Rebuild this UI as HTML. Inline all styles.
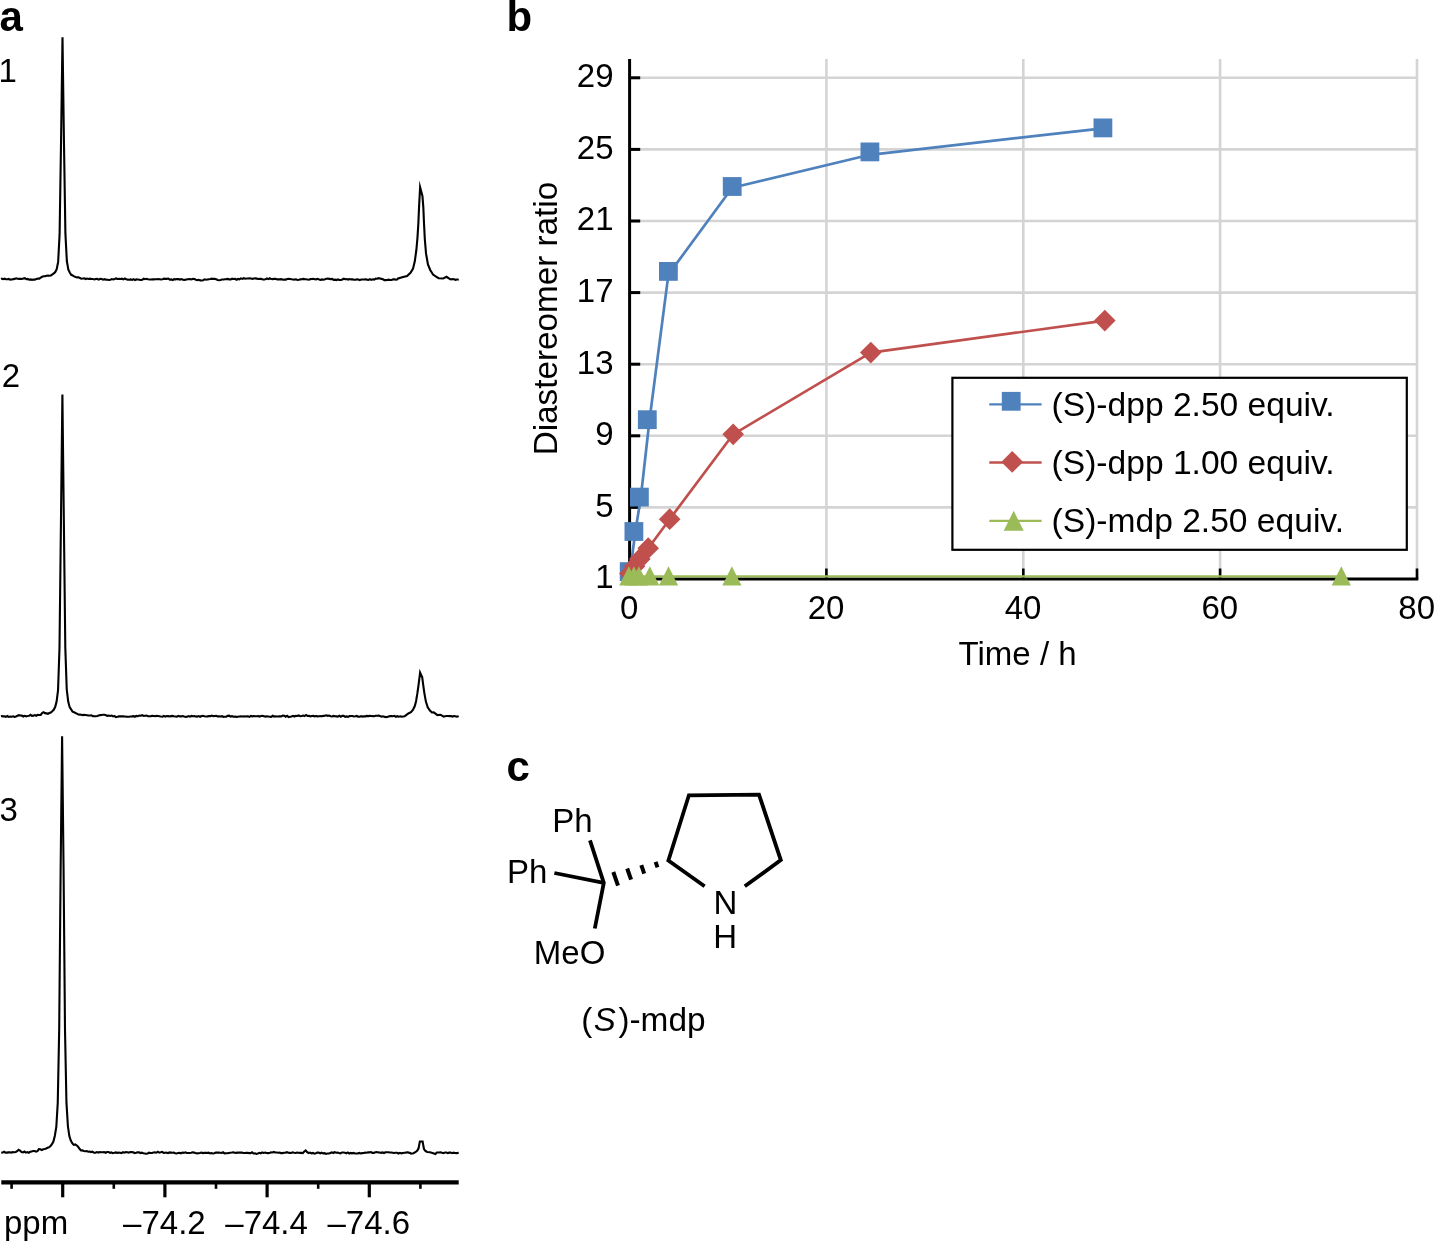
<!DOCTYPE html>
<html lang="en"><head><meta charset="utf-8"><title>Figure</title>
<style>html,body{margin:0;padding:0;background:#fff}body{width:1434px;height:1241px;overflow:hidden}svg{display:block;will-change:transform}text{font-family:"Liberation Sans", Arial, Helvetica, sans-serif;fill:#000}.t{font-size:33px}.b{font-size:42px;font-weight:bold}</style></head><body>
<svg width="1434" height="1241" viewBox="0 0 1434 1241">
<rect width="1434" height="1241" fill="#fff"/>
<g id="panel-a">
<text class="b" x="-0.5" y="30.6">a</text>
<text class="t" x="-1.5" y="82.2">1</text>
<text class="t" x="1.7" y="387">2</text>
<text class="t" x="-0.6" y="820.7">3</text>
<polyline fill="none" stroke="#000" stroke-width="2.1" stroke-linejoin="miter" stroke-miterlimit="8" points="1.00,278.88 1.60,278.68 3.05,279.22 4.50,278.67 5.95,279.31 7.40,279.32 8.85,278.96 10.30,279.61 11.75,279.42 13.20,279.14 14.65,278.87 16.10,278.31 17.55,278.78 19.00,278.84 20.45,278.74 21.90,278.94 23.35,278.48 24.80,278.22 26.25,279.22 27.70,278.95 29.15,279.70 30.60,279.43 32.05,279.87 33.50,279.50 34.95,279.63 36.40,278.89 37.85,278.49 39.30,278.62 40.75,277.71 42.20,276.62 43.65,276.25 45.10,276.30 46.55,275.77 48.00,275.47 49.45,275.79 50.90,275.43 52.35,274.44 53.80,273.34 55.25,272.02 56.70,269.18 58.15,261.88 59.60,234.41 61.05,140.92 62.50,37.21 63.95,140.96 65.40,233.40 66.85,261.02 68.30,269.41 69.75,272.53 71.20,274.81 72.65,275.44 74.10,276.37 75.55,277.03 77.00,277.36 78.45,277.40 79.90,278.07 81.35,278.75 82.80,278.56 84.25,278.33 85.70,279.01 87.15,278.49 88.60,279.00 90.05,278.68 91.50,279.04 92.95,279.05 94.40,279.44 95.85,279.05 97.30,278.93 98.75,279.62 100.20,278.77 101.65,279.00 103.10,279.65 104.55,279.19 106.00,279.67 107.45,279.79 108.90,280.04 110.35,279.68 111.80,279.02 113.25,279.50 114.70,279.05 116.15,278.45 117.60,278.99 119.05,278.92 120.50,279.03 121.95,278.70 123.40,279.36 124.85,278.50 126.30,279.17 127.75,279.64 129.20,279.68 130.65,279.43 132.10,279.91 133.55,279.16 135.00,280.05 136.45,279.44 137.90,279.55 139.35,279.71 140.80,279.98 142.25,279.66 143.70,278.75 145.15,279.16 146.60,278.80 148.05,279.22 149.50,279.43 150.95,279.51 152.40,279.31 153.85,279.34 155.30,279.21 156.75,279.27 158.20,279.01 159.65,279.24 161.10,279.44 162.55,279.25 164.00,278.63 165.45,278.86 166.90,278.85 168.35,278.59 169.80,279.66 171.25,279.36 172.70,280.03 174.15,279.16 175.60,279.38 177.05,278.95 178.50,279.15 179.95,279.57 181.40,279.07 182.85,279.71 184.30,279.89 185.75,279.78 187.20,279.21 188.65,279.11 190.10,278.96 191.55,279.42 193.00,278.88 194.45,279.00 195.90,279.77 197.35,280.08 198.80,279.75 200.25,280.41 201.70,280.51 203.15,280.17 204.60,279.34 206.05,279.74 207.50,279.46 208.95,279.29 210.40,279.09 211.85,278.65 213.30,278.92 214.75,278.90 216.20,279.23 217.65,279.90 219.10,280.26 220.55,279.90 222.00,279.49 223.45,279.53 224.90,279.25 226.35,279.14 227.80,278.89 229.25,279.39 230.70,279.49 232.15,278.72 233.60,279.02 235.05,278.81 236.50,279.69 237.95,278.96 239.40,279.36 240.85,278.36 242.30,278.88 243.75,278.24 245.20,278.79 246.65,278.57 248.10,278.44 249.55,278.34 251.00,278.55 252.45,278.83 253.90,278.47 255.35,278.39 256.80,278.62 258.25,279.00 259.70,278.71 261.15,278.88 262.60,279.45 264.05,279.45 265.50,279.16 266.95,278.52 268.40,279.17 269.85,278.30 271.30,279.06 272.75,279.15 274.20,278.88 275.65,278.85 277.10,279.40 278.55,279.40 280.00,279.40 281.45,279.13 282.90,279.67 284.35,279.52 285.80,279.58 287.25,278.96 288.70,278.88 290.15,278.94 291.60,279.31 293.05,279.47 294.50,279.57 295.95,279.33 297.40,279.98 298.85,279.73 300.30,279.39 301.75,279.20 303.20,278.89 304.65,279.10 306.10,279.19 307.55,279.55 309.00,279.77 310.45,279.10 311.90,278.94 313.35,278.88 314.80,279.23 316.25,279.32 317.70,278.83 319.15,279.45 320.60,279.81 322.05,279.44 323.50,279.70 324.95,279.25 326.40,278.70 327.85,278.66 329.30,278.87 330.75,279.07 332.20,278.85 333.65,279.79 335.10,279.62 336.55,280.03 338.00,279.43 339.45,279.99 340.90,279.95 342.35,279.50 343.80,278.72 345.25,279.28 346.70,278.99 348.15,279.54 349.60,278.99 351.05,279.40 352.50,279.42 353.95,279.72 355.40,279.73 356.85,279.38 358.30,279.58 359.75,280.10 361.20,279.45 362.65,279.48 364.10,279.45 365.55,279.28 367.00,279.61 368.45,279.87 369.90,279.10 371.35,279.89 372.80,279.33 374.25,279.55 375.70,278.54 377.15,278.70 378.60,278.21 380.05,278.56 381.50,278.88 382.95,279.29 384.40,280.09 385.85,280.15 387.30,280.03 388.75,279.64 390.20,279.99 391.65,280.03 393.10,279.34 394.55,279.36 396.00,279.73 397.45,279.34 398.05,278.48 403.13,276.90 407.08,275.99 410.47,272.83 412.95,268.89 414.75,261.55 416.33,250.27 417.46,237.86 418.36,223.19 419.04,207.39 420.11,187.19 422.43,195.88 423.33,207.39 424.01,223.19 424.80,238.98 426.04,253.65 427.95,264.37 430.21,270.01 433.03,274.53 436.42,276.78 438.67,278.25 443.19,278.48 446.57,276.78 449.96,279.04 451.10,279.48 452.55,279.06 454.00,279.33 455.45,279.86 456.90,279.53 458.35,279.47 458.70,279.27"/>
<polyline fill="none" stroke="#000" stroke-width="2.1" stroke-linejoin="miter" stroke-miterlimit="8" points="1.00,716.37 1.50,716.17 2.95,716.36 4.40,716.22 5.85,716.86 7.30,716.01 8.75,716.93 10.20,716.51 11.65,716.74 13.10,716.26 14.55,716.96 16.00,716.45 17.45,715.71 18.90,715.21 20.35,715.54 21.80,715.65 23.25,716.51 24.70,715.84 26.15,716.30 27.60,716.06 29.05,715.77 30.50,714.85 31.95,715.80 33.40,715.61 34.85,715.03 36.30,715.74 37.75,714.89 39.20,715.02 40.65,714.97 42.10,713.08 43.55,712.23 45.00,713.15 46.45,713.38 47.90,713.77 49.35,713.01 50.80,712.54 52.25,711.21 53.70,709.76 55.15,707.01 56.60,701.57 58.05,690.03 59.50,647.76 60.95,521.81 62.40,394.57 63.85,521.07 65.30,647.61 66.75,689.51 68.20,701.62 69.65,707.18 71.10,709.35 72.55,711.60 74.00,712.19 75.45,712.99 76.90,713.61 78.35,714.56 79.80,714.60 81.25,714.82 82.70,715.14 84.15,714.87 85.60,714.94 87.05,715.24 88.50,715.51 89.95,715.50 91.40,715.42 92.85,716.17 94.30,716.31 95.75,716.18 97.20,716.05 98.65,715.48 100.10,715.15 101.55,715.02 103.00,714.82 104.45,714.73 105.90,715.19 107.35,715.81 108.80,715.56 110.25,715.96 111.70,715.52 113.15,716.39 114.60,716.04 116.05,717.11 117.50,716.77 118.95,716.38 120.40,716.26 121.85,716.34 123.30,716.27 124.75,716.47 126.20,716.67 127.65,716.72 129.10,716.70 130.55,716.46 132.00,716.40 133.45,716.11 134.90,716.75 136.35,715.94 137.80,716.22 139.25,715.61 140.70,715.79 142.15,715.18 143.60,716.00 145.05,715.78 146.50,715.63 147.95,716.25 149.40,716.29 150.85,716.13 152.30,715.83 153.75,715.96 155.20,716.28 156.65,715.74 158.10,715.92 159.55,716.29 161.00,716.53 162.45,716.68 163.90,715.89 165.35,716.64 166.80,716.04 168.25,716.14 169.70,716.52 171.15,716.15 172.60,715.90 174.05,716.22 175.50,716.43 176.95,716.74 178.40,715.82 179.85,716.38 181.30,716.35 182.75,716.04 184.20,716.59 185.65,716.85 187.10,716.68 188.55,716.02 190.00,716.61 191.45,715.96 192.90,716.29 194.35,716.11 195.80,716.41 197.25,716.63 198.70,716.04 200.15,716.74 201.60,716.04 203.05,715.77 204.50,716.21 205.95,716.49 207.40,716.34 208.85,716.14 210.30,716.17 211.75,715.56 213.20,716.16 214.65,715.96 216.10,715.85 217.55,716.42 219.00,716.38 220.45,716.50 221.90,716.13 223.35,716.82 224.80,716.68 226.25,716.65 227.70,715.83 229.15,715.70 230.60,716.61 232.05,716.15 233.50,716.68 234.95,716.52 236.40,716.83 237.85,716.75 239.30,716.49 240.75,716.34 242.20,716.51 243.65,716.25 245.10,716.44 246.55,716.26 248.00,716.35 249.45,716.89 250.90,715.98 252.35,716.32 253.80,716.08 255.25,716.32 256.70,716.24 258.15,716.07 259.60,716.54 261.05,716.05 262.50,715.78 263.95,716.17 265.40,716.57 266.85,716.32 268.30,716.45 269.75,716.81 271.20,716.87 272.65,715.82 274.10,716.56 275.55,716.26 277.00,716.43 278.45,716.37 279.90,716.20 281.35,716.31 282.80,715.52 284.25,715.79 285.70,716.72 287.15,715.72 288.60,717.01 290.05,716.75 291.50,716.53 292.95,715.89 294.40,716.56 295.85,715.89 297.30,716.03 298.75,715.41 300.20,716.21 301.65,716.04 303.10,715.52 304.55,715.99 306.00,714.95 307.45,715.95 308.90,715.80 310.35,716.36 311.80,715.97 313.25,715.91 314.70,716.32 316.15,716.02 317.60,716.38 319.05,716.20 320.50,715.97 321.95,716.26 323.40,715.88 324.85,715.83 326.30,715.27 327.75,715.79 329.20,715.48 330.65,716.22 332.10,716.43 333.55,715.86 335.00,716.22 336.45,716.35 337.90,716.63 339.35,715.69 340.80,716.67 342.25,715.87 343.70,715.84 345.15,716.81 346.60,716.38 348.05,716.82 349.50,716.11 350.95,716.04 352.40,715.99 353.85,716.50 355.30,716.27 356.75,715.94 358.20,716.66 359.65,716.70 361.10,716.14 362.55,716.64 364.00,716.32 365.45,716.36 366.90,715.91 368.35,716.08 369.80,715.89 371.25,716.02 372.70,716.14 374.15,716.24 375.60,715.77 377.05,715.78 378.50,715.65 379.95,716.01 381.40,716.67 382.85,716.28 384.30,716.69 385.75,717.08 387.20,717.00 388.65,716.49 390.10,716.09 391.55,716.07 393.00,716.20 394.45,715.83 395.90,716.76 397.35,716.19 398.80,716.75 400.25,716.26 401.70,716.77 403.15,716.53 404.60,716.34 405.79,715.43 408.36,713.50 410.94,712.21 412.88,709.95 414.81,706.08 416.10,700.93 417.39,693.19 418.55,684.81 420.10,672.56 422.22,677.40 423.19,684.81 424.48,693.84 425.90,701.57 427.70,707.37 429.96,710.60 431.89,712.53 433.83,712.40 435.76,713.82 437.37,715.11 440.60,714.79 442.85,716.08 443.75,716.61 445.20,716.19 446.65,716.06 448.10,716.01 449.55,716.16 451.00,716.05 452.45,716.60 453.90,716.09 455.35,716.30 456.80,716.69 458.25,716.34 458.70,716.14"/>
<polyline fill="none" stroke="#000" stroke-width="2.1" stroke-linejoin="miter" stroke-miterlimit="8" points="1.20,1152.83 2.65,1152.55 4.10,1151.74 5.55,1152.58 7.00,1152.58 8.45,1152.39 9.90,1152.22 11.35,1152.60 12.80,1152.17 14.25,1152.30 15.70,1151.99 17.15,1151.16 18.60,1149.75 20.05,1150.51 21.50,1151.95 22.95,1152.40 24.40,1151.57 25.85,1152.62 27.30,1152.06 28.75,1152.76 30.20,1151.77 31.65,1151.41 33.10,1151.06 34.55,1151.01 36.00,1151.56 37.45,1151.16 38.90,1149.04 40.35,1149.26 41.80,1150.05 43.25,1149.33 44.70,1149.05 46.15,1148.54 47.60,1147.80 49.05,1147.38 50.50,1146.14 51.95,1144.26 53.40,1141.53 54.85,1135.79 56.30,1126.94 57.75,1102.86 59.20,1029.13 60.65,868.03 62.10,736.16 63.55,867.27 65.00,1029.67 66.45,1102.41 67.90,1126.08 69.35,1136.05 70.80,1140.59 72.25,1143.19 73.70,1144.90 75.15,1144.45 76.60,1145.29 78.05,1146.60 79.50,1148.80 80.95,1150.48 82.40,1150.43 83.85,1150.97 85.30,1151.21 86.75,1151.10 88.20,1151.78 89.65,1151.61 91.10,1152.05 92.55,1151.65 94.00,1152.72 95.45,1152.68 96.90,1152.02 98.35,1152.59 99.80,1151.99 101.25,1152.29 102.70,1152.30 104.15,1152.13 105.60,1152.74 107.05,1151.96 108.50,1151.95 109.95,1152.92 111.40,1152.40 112.85,1153.11 114.30,1152.83 115.75,1152.46 117.20,1152.86 118.65,1152.64 120.10,1152.68 121.55,1153.08 123.00,1152.22 124.45,1152.68 125.90,1152.08 127.35,1152.18 128.80,1152.74 130.25,1152.13 131.70,1152.05 133.15,1152.28 134.60,1153.03 136.05,1152.70 137.50,1152.21 138.95,1152.38 140.40,1153.03 141.85,1152.68 143.30,1153.25 144.75,1153.43 146.20,1153.77 147.65,1153.52 149.10,1152.67 150.55,1152.97 152.00,1152.96 153.45,1152.55 154.90,1152.42 156.35,1152.73 157.80,1151.68 159.25,1152.55 160.70,1152.29 162.15,1151.85 163.60,1152.95 165.05,1152.70 166.50,1152.56 167.95,1153.13 169.40,1152.43 170.85,1152.59 172.30,1152.78 173.75,1152.62 175.20,1153.30 176.65,1153.44 178.10,1153.01 179.55,1152.90 181.00,1153.27 182.45,1152.57 183.90,1152.87 185.35,1152.34 186.80,1153.03 188.25,1153.03 189.70,1153.01 191.15,1152.67 192.60,1152.29 194.05,1152.61 195.50,1153.04 196.95,1153.38 198.40,1153.32 199.85,1153.08 201.30,1152.55 202.75,1153.06 204.20,1152.88 205.65,1152.80 207.10,1152.92 208.55,1152.66 210.00,1153.41 211.45,1153.08 212.90,1153.43 214.35,1153.21 215.80,1152.50 217.25,1152.59 218.70,1152.67 220.15,1152.72 221.60,1153.02 223.05,1152.32 224.50,1153.40 225.95,1153.31 227.40,1153.28 228.85,1152.99 230.30,1152.72 231.75,1152.56 233.20,1152.30 234.65,1152.73 236.10,1152.90 237.55,1152.62 239.00,1152.65 240.45,1152.47 241.90,1152.60 243.35,1153.00 244.80,1153.01 246.25,1152.92 247.70,1152.81 249.15,1153.13 250.60,1153.15 252.05,1152.33 253.50,1153.50 254.95,1153.24 256.40,1153.90 257.85,1153.57 259.30,1152.83 260.75,1153.30 262.20,1152.44 263.65,1152.90 265.10,1152.50 266.55,1153.08 268.00,1153.14 269.45,1153.08 270.90,1152.38 272.35,1152.44 273.80,1151.96 275.25,1152.50 276.70,1152.55 278.15,1152.76 279.60,1152.59 281.05,1153.08 282.50,1153.12 283.95,1152.70 285.40,1152.68 286.85,1152.16 288.30,1152.78 289.75,1152.87 291.20,1152.99 292.65,1152.34 294.10,1152.79 295.55,1152.97 297.00,1152.55 298.45,1152.71 299.90,1152.88 301.35,1152.91 302.80,1153.11 304.25,1151.52 305.70,1150.46 307.15,1152.17 308.60,1153.01 310.05,1152.59 311.50,1153.33 312.95,1152.89 314.40,1153.61 315.85,1153.20 317.30,1152.57 318.75,1152.62 320.20,1153.33 321.65,1152.67 323.10,1153.34 324.55,1153.16 326.00,1153.95 327.45,1153.47 328.90,1153.56 330.35,1153.00 331.80,1152.31 333.25,1152.99 334.70,1152.09 336.15,1152.75 337.60,1152.59 339.05,1153.05 340.50,1153.44 341.95,1152.47 343.40,1152.49 344.85,1152.66 346.30,1153.32 347.75,1152.44 349.20,1153.57 350.65,1152.94 352.10,1153.35 353.55,1152.97 355.00,1153.47 356.45,1153.46 357.90,1153.38 359.35,1152.97 360.80,1153.45 362.25,1153.14 363.70,1153.03 365.15,1152.64 366.60,1152.72 368.05,1152.27 369.50,1152.39 370.95,1152.07 372.40,1152.91 373.85,1152.89 375.30,1152.33 376.75,1152.08 378.20,1152.42 379.65,1152.48 381.10,1152.84 382.55,1152.43 384.00,1152.98 385.45,1152.23 386.90,1152.22 388.35,1152.30 389.80,1152.56 391.25,1152.55 392.70,1152.69 394.15,1153.01 395.60,1152.79 397.05,1152.78 398.50,1153.53 399.95,1152.86 401.40,1153.30 402.85,1152.95 404.30,1152.73 405.75,1152.60 407.20,1152.22 408.65,1152.62 410.10,1153.01 410.99,1153.68 413.43,1153.19 415.38,1152.22 417.34,1150.51 418.56,1148.31 419.29,1144.41 419.87,1141.48 422.61,1141.48 423.29,1145.38 423.93,1148.80 425.15,1150.75 427.10,1151.97 430.03,1152.22 432.47,1152.95 435.40,1153.93 436.86,1152.46 438.81,1152.46 440.55,1152.32 442.00,1152.84 443.45,1153.18 444.90,1152.54 446.35,1152.53 447.80,1153.12 449.25,1152.67 450.70,1152.63 452.15,1153.13 453.60,1152.61 455.05,1152.99 456.50,1153.09 457.95,1152.89 458.70,1152.69"/>
<line x1="1.3" y1="1182.3" x2="458.7" y2="1182.3" stroke="#000" stroke-width="4.2"/>
<line x1="62.7" y1="1182.3" x2="62.7" y2="1197.3" stroke="#000" stroke-width="3.2"/>
<line x1="164.9" y1="1182.3" x2="164.9" y2="1197.3" stroke="#000" stroke-width="3.2"/>
<line x1="267.1" y1="1182.3" x2="267.1" y2="1197.3" stroke="#000" stroke-width="3.2"/>
<line x1="369.3" y1="1182.3" x2="369.3" y2="1197.3" stroke="#000" stroke-width="3.2"/>
<line x1="11.6" y1="1182.3" x2="11.6" y2="1188.8" stroke="#000" stroke-width="2.6"/>
<line x1="113.8" y1="1182.3" x2="113.8" y2="1188.8" stroke="#000" stroke-width="2.6"/>
<line x1="216.0" y1="1182.3" x2="216.0" y2="1188.8" stroke="#000" stroke-width="2.6"/>
<line x1="318.2" y1="1182.3" x2="318.2" y2="1188.8" stroke="#000" stroke-width="2.6"/>
<line x1="420.4" y1="1182.3" x2="420.4" y2="1188.8" stroke="#000" stroke-width="2.6"/>
<text class="t" x="4" y="1233.6">ppm</text>
<text class="t" x="164.4" y="1233.6" text-anchor="middle">–74.2</text>
<text class="t" x="266.6" y="1233.6" text-anchor="middle">–74.4</text>
<text class="t" x="368.8" y="1233.6" text-anchor="middle">–74.6</text>
</g>
<g id="panel-b">
<text class="b" x="506.5" y="30.6">b</text>
<line x1="629.6" y1="507.4" x2="1417.0" y2="507.4" stroke="#d4d4d4" stroke-width="2.6"/>
<line x1="629.6" y1="435.8" x2="1417.0" y2="435.8" stroke="#d4d4d4" stroke-width="2.6"/>
<line x1="629.6" y1="364.2" x2="1417.0" y2="364.2" stroke="#d4d4d4" stroke-width="2.6"/>
<line x1="629.6" y1="292.6" x2="1417.0" y2="292.6" stroke="#d4d4d4" stroke-width="2.6"/>
<line x1="629.6" y1="221.0" x2="1417.0" y2="221.0" stroke="#d4d4d4" stroke-width="2.6"/>
<line x1="629.6" y1="149.4" x2="1417.0" y2="149.4" stroke="#d4d4d4" stroke-width="2.6"/>
<line x1="629.6" y1="77.8" x2="1417.0" y2="77.8" stroke="#d4d4d4" stroke-width="2.6"/>
<line x1="826.4" y1="59.0" x2="826.4" y2="579.0" stroke="#d4d4d4" stroke-width="2.6"/>
<line x1="1023.3" y1="59.0" x2="1023.3" y2="579.0" stroke="#d4d4d4" stroke-width="2.6"/>
<line x1="1220.1" y1="59.0" x2="1220.1" y2="579.0" stroke="#d4d4d4" stroke-width="2.6"/>
<line x1="1417.0" y1="59.0" x2="1417.0" y2="579.0" stroke="#d4d4d4" stroke-width="2.6"/>
<line x1="629.6" y1="59.0" x2="629.6" y2="580.5" stroke="#000" stroke-width="3"/>
<line x1="628.1" y1="579.0" x2="1418.3" y2="579.0" stroke="#000" stroke-width="3"/>
<line x1="629.6" y1="507.4" x2="640.2" y2="507.4" stroke="#000" stroke-width="3"/>
<line x1="629.6" y1="435.8" x2="640.2" y2="435.8" stroke="#000" stroke-width="3"/>
<line x1="629.6" y1="364.2" x2="640.2" y2="364.2" stroke="#000" stroke-width="3"/>
<line x1="629.6" y1="292.6" x2="640.2" y2="292.6" stroke="#000" stroke-width="3"/>
<line x1="629.6" y1="221.0" x2="640.2" y2="221.0" stroke="#000" stroke-width="3"/>
<line x1="629.6" y1="149.4" x2="640.2" y2="149.4" stroke="#000" stroke-width="3"/>
<line x1="629.6" y1="77.8" x2="640.2" y2="77.8" stroke="#000" stroke-width="3"/>
<line x1="826.4" y1="579.0" x2="826.4" y2="568.5" stroke="#000" stroke-width="2.6"/>
<line x1="1023.3" y1="579.0" x2="1023.3" y2="568.5" stroke="#000" stroke-width="2.6"/>
<line x1="1220.1" y1="579.0" x2="1220.1" y2="568.5" stroke="#000" stroke-width="2.6"/>
<line x1="1417.0" y1="579.0" x2="1417.0" y2="568.5" stroke="#000" stroke-width="2.6"/>
<text class="t" x="613.5" y="588.3" text-anchor="end">1</text>
<text class="t" x="613.5" y="516.7" text-anchor="end">5</text>
<text class="t" x="613.5" y="445.1" text-anchor="end">9</text>
<text class="t" x="613.5" y="373.5" text-anchor="end">13</text>
<text class="t" x="613.5" y="301.9" text-anchor="end">17</text>
<text class="t" x="613.5" y="230.3" text-anchor="end">21</text>
<text class="t" x="613.5" y="158.7" text-anchor="end">25</text>
<text class="t" x="613.5" y="87.1" text-anchor="end">29</text>
<text class="t" x="629.3" y="618.7" text-anchor="middle">0</text>
<text class="t" x="826.1" y="618.7" text-anchor="middle">20</text>
<text class="t" x="1023.0" y="618.7" text-anchor="middle">40</text>
<text class="t" x="1219.8" y="618.7" text-anchor="middle">60</text>
<text class="t" x="1416.7" y="618.7" text-anchor="middle">80</text>
<text class="t" x="1017.6" y="665.0" text-anchor="middle">Time / h</text>
<text class="t" transform="translate(557.4 318.6) rotate(-90)" text-anchor="middle" style="font-size:33.25px">Diastereomer ratio</text>
<polyline fill="none" stroke="#4f81bd" stroke-width="2.7" stroke-linejoin="round" points="629.8,574.0 635.3,532.0 640.8,497.5 649.5,420.0 668.4,274.6 732.2,187.8 869.9,154.8 1102.9,128.3"/>
<rect x="619.8" y="562.2" width="18.8" height="18.8" fill="#4f81bd"/>
<rect x="624.5" y="522.1" width="18.8" height="18.8" fill="#4f81bd"/>
<rect x="630.0" y="487.7" width="18.8" height="18.8" fill="#4f81bd"/>
<rect x="637.9" y="410.3" width="18.8" height="18.8" fill="#4f81bd"/>
<rect x="659.0" y="262.0" width="18.8" height="18.8" fill="#4f81bd"/>
<rect x="722.8" y="177.1" width="18.8" height="18.8" fill="#4f81bd"/>
<rect x="860.5" y="142.5" width="18.8" height="18.8" fill="#4f81bd"/>
<rect x="1093.5" y="118.5" width="18.8" height="18.8" fill="#4f81bd"/>
<polyline fill="none" stroke="#c0504d" stroke-width="2.7" stroke-linejoin="round" points="629.8,573.6 634.6,566.2 639.8,559.0 648.2,548.2 669.7,519.2 733.2,434.3 870.8,352.6 1104.8,320.6"/>
<path d="M629.8 562.7L640.6 573.6L629.8 584.5L619.0 573.6Z" fill="#c0504d"/>
<path d="M634.6 555.3L645.4 566.2L634.6 577.1L623.8 566.2Z" fill="#c0504d"/>
<path d="M639.8 548.1L650.6 559.0L639.8 569.9L629.0 559.0Z" fill="#c0504d"/>
<path d="M648.2 537.3L659.0 548.2L648.2 559.1L637.4 548.2Z" fill="#c0504d"/>
<path d="M669.7 508.3L680.5 519.2L669.7 530.1L658.9 519.2Z" fill="#c0504d"/>
<path d="M733.2 423.4L744.0 434.3L733.2 445.2L722.4 434.3Z" fill="#c0504d"/>
<path d="M870.8 341.7L881.6 352.6L870.8 363.5L860.0 352.6Z" fill="#c0504d"/>
<path d="M1104.8 309.7L1115.6 320.6L1104.8 331.5L1094.0 320.6Z" fill="#c0504d"/>
<polyline fill="none" stroke="#9bbb59" stroke-width="2.4" stroke-linejoin="round" points="628.8,576.4 633.9,576.4 638.9,576.4 649.8,576.4 668.5,576.4 731.9,576.4 1341.3,576.4"/>
<path d="M628.8 566.2L638.4 585.5L619.2 585.5Z" fill="#9bbb59"/>
<path d="M633.9 566.2L643.5 585.5L624.3 585.5Z" fill="#9bbb59"/>
<path d="M638.9 566.2L648.5 585.5L629.3 585.5Z" fill="#9bbb59"/>
<path d="M649.8 566.2L659.4 585.5L640.2 585.5Z" fill="#9bbb59"/>
<path d="M668.5 566.2L678.1 585.5L658.9 585.5Z" fill="#9bbb59"/>
<path d="M731.9 566.2L741.5 585.5L722.3 585.5Z" fill="#9bbb59"/>
<path d="M1341.3 566.2L1350.9 585.5L1331.7 585.5Z" fill="#9bbb59"/>
<rect x="952.4" y="377.8" width="454.4" height="172.0" fill="#fff" stroke="#000" stroke-width="2.2"/>
<line x1="989.3" y1="404.3" x2="1041.6" y2="404.3" stroke="#4f81bd" stroke-width="2.3"/>
<rect x="1001.8" y="391.9" width="18.8" height="18.8" fill="#4f81bd"/>
<text x="1051.6" y="415.9" style="font-size:33.6px">(S)-dpp 2.50 equiv.</text>
<line x1="989.3" y1="462.5" x2="1041.6" y2="462.5" stroke="#c0504d" stroke-width="2.3"/>
<path d="M1012.2 451.0L1023.1 461.9L1012.2 472.8L1001.3 461.9Z" fill="#c0504d"/>
<text x="1051.6" y="474.1" style="font-size:33.6px">(S)-dpp 1.00 equiv.</text>
<line x1="989.3" y1="520.8" x2="1041.6" y2="520.8" stroke="#9bbb59" stroke-width="2.3"/>
<path d="M1013.7 510.8L1023.7 530.8L1003.7 530.8Z" fill="#9bbb59"/>
<text x="1051.6" y="532.4" style="font-size:33.6px">(S)-mdp 2.50 equiv.</text>
</g>
<g id="panel-c">
<text class="b" x="506.5" y="781.2">c</text>
<polyline fill="none" stroke="#000" stroke-width="3.8" stroke-linejoin="miter" points="704.6,886.3 668.4,860.5 688.9,795.3 759.0,794.6 780.8,860.1 744.8,886.3"/>
<polyline fill="none" stroke="#000" stroke-width="3.8" stroke-linejoin="miter" stroke-miterlimit="10" points="590.0,840.4 603.8,882.9 594.8,928.5"/>
<line x1="554.4" y1="873.0" x2="603.8" y2="882.9" stroke="#000" stroke-width="3.8"/>
<line x1="613.3" y1="872.0" x2="618.0" y2="885.6" stroke="#000" stroke-width="4"/>
<line x1="627.2" y1="868.5" x2="631.1" y2="879.7" stroke="#000" stroke-width="4"/>
<line x1="641.3" y1="865.2" x2="644.2" y2="873.7" stroke="#000" stroke-width="4"/>
<line x1="655.6" y1="861.9" x2="657.5" y2="867.4" stroke="#000" stroke-width="4"/>
<text class="t" x="552.3" y="831.6">Ph</text>
<text class="t" x="507.0" y="883.0">Ph</text>
<text class="t" x="533.8" y="964.4">MeO</text>
<text class="t" x="725.3" y="913.6" text-anchor="middle">N</text>
<text class="t" x="725.2" y="947.8" text-anchor="middle">H</text>
<text class="t" y="1031.4"><tspan x="581.3">(</tspan><tspan x="593.8" font-style="italic">S</tspan><tspan x="618.5">)</tspan><tspan x="629.5" style="font-size:33.4px">-mdp</tspan></text>
</g>
</svg></body></html>
